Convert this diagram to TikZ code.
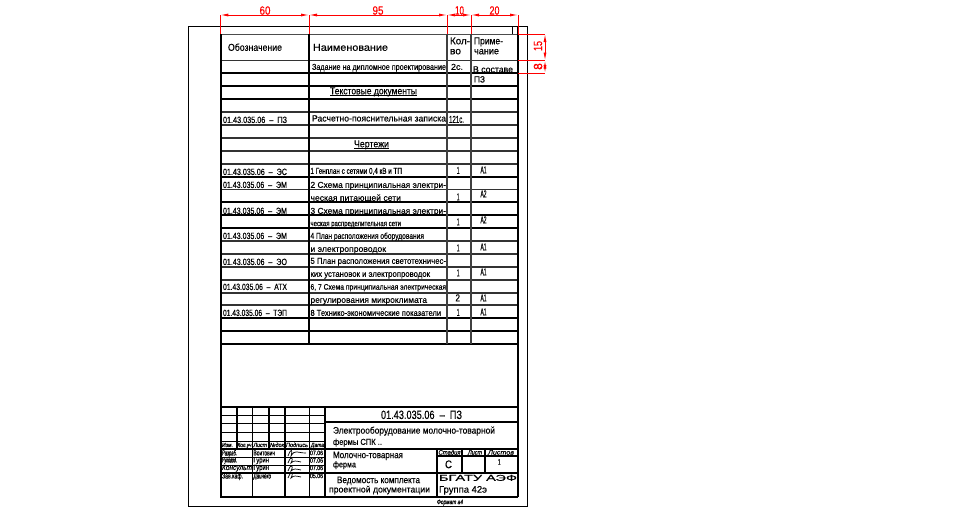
\documentclass[tikz,border=0pt]{standalone}
\usepackage{graphicx}
\usepackage{fontspec}
\setmainfont[FakeBold=0.35]{Liberation Sans}
\usetikzlibrary{arrows.meta}
\newcounter{tn}
\tikzset{
  txt/.style={inner sep=0pt,outer sep=0pt,anchor=base west,font=\fontsize{#1}{#1}\selectfont,text=black},
  txt/.default=10,
  thinl/.style={line width=1.1pt,black!80},
  thickl/.style={line width=2pt,black},
  framel/.style={line width=1pt,black},
  dim/.style={red,line width=0.9pt},
  dimar/.style={red,line width=0.9pt,{Latex[length=8pt,width=3pt]}-{Latex[length=8pt,width=3pt]}},
  dimtxt/.style={inner sep=0pt,text=red,font=\fontsize{12}{12}\selectfont}
}
% x1,x2,y(centre),text
\newcommand{\TX}[5][10]{\stepcounter{tn}\node[txt=#1] (t\thetn) at (#2,#4+0.33*#1) {\resizebox{\dimexpr #3pt-#2pt\relax}{\height}{#5}};}
\newcommand{\CODE}[1]{01.43.035.06\ \ --\ \ #1}
\begin{document}
\begin{tikzpicture}[x=1pt,y=-1pt]
\useasboundingbox (0,0) rectangle (976,512);
\fill[white] (0,0) rectangle (976,512);
% outer frame
\draw[framel] (188,26.5) rectangle (527,506);
\draw[framel] (512,26.5) -- (512,34);
\draw[framel,black!70] (220,34) -- (518,34);
% rows
\foreach \y in {60.5,112,125,138,151,164,189.5,241,254,267,280,293,305}
  \draw[thinl] (220,\y) -- (518,\y);
\foreach \y in {73,86,99,177,202,215,228,318,331,344}
  \draw[thickl] (220,\y) -- (518,\y);
% columns
\draw[thickl] (220.5,34) -- (220.5,496.5);
\draw[thickl] (517.8,26) -- (517.8,496.5);
\draw[line width=2.2pt] (308.8,34) -- (308.8,344);
\draw[line width=1.3pt,black!75] (447,34) -- (447,344);
\draw[line width=1.3pt,black!75] (471,34) -- (471,344);
% stamp grid
\draw[thickl] (220,407) -- (518,407);
\draw[thickl] (220,497) -- (518,497);
\draw[thickl] (220,449.3) -- (518,449.3);
\draw[thickl] (325,422) -- (518,422);
\draw[thickl] (325,473) -- (518,473);
\draw[thickl] (220,473) -- (325,473);
\foreach \y in {415,423.5,432,441}
  \draw[line width=0.9pt] (220,\y) -- (325,\y);
\foreach \y in {457.5,465.3}
  \draw[line width=1.1pt] (220,\y) -- (325,\y);
\draw[line width=1.5pt] (285,407) -- (285,497);
\draw[line width=1.5pt] (309.5,407) -- (309.5,497);
\draw[line width=2.2pt] (325,407) -- (325,497);
\draw[line width=1.2pt] (237,407) -- (237,449);
\draw[line width=1.2pt] (252.7,407) -- (252.7,497);
\draw[line width=1.2pt] (269,407) -- (269,449);
\draw[thickl] (437,449) -- (437,497);
\draw[line width=1.2pt] (437,456) -- (518,456);
\draw[line width=1.4pt] (462,449) -- (462,473);
\draw[line width=1.4pt] (485,449) -- (485,473);
% underlines
\draw[line width=0.8pt] (330,95.5) -- (417,95.5);
\draw[line width=0.8pt] (354,148.5) -- (389,148.5);
% dimensions
\foreach \x in {220.3,309,447,471,518}
  \draw[dim] (\x,15) -- (\x,34);
\foreach \a/\b in {220.3/309,309/447,447/471,471/518}
  \draw[dimar] (\a,15) -- (\b,15);
\foreach \y in {34,60.5,73}
  \draw[dim] (518,\y) -- (545,\y);
\foreach \a/\b in {34/60.5,60.5/73}
  \draw[dimar] (545,\a) -- (545,\b);
\node[dimtxt] (d60) at (265,10.5) {\resizebox{11pt}{\height}{60}};
\node[dimtxt] (d95) at (378,10.5) {\resizebox{11pt}{\height}{95}};
\node[dimtxt] (d10) at (459.5,10.5) {\resizebox{9pt}{\height}{10}};
\node[dimtxt] (d20) at (494.5,10.5) {\resizebox{10pt}{\height}{20}};
\node[dimtxt,rotate=90] (d15) at (538,46) {\resizebox{10pt}{\height}{15}};
\node[dimtxt,rotate=90] (d8) at (538,66.5) {8};
% header
\TX{228}{282}{47.5}{Обозначение}
\TX{313}{388}{47.5}{Наименование}
\TX{450}{470}{41}{Кол-}
\TX{450}{461}{51}{во}
\TX{474}{503}{41}{Приме-}
\TX{474}{499}{51}{чание}
% upper
\TX[8.5]{312}{446}{67}{Задание на дипломное проектирование}
\TX[8.5]{451}{463}{67}{2с.}
\TX[9]{473}{513}{69.5}{В составе}
\TX[9]{474}{485}{79.5}{ПЗ}
\TX{330}{417}{91}{Текстовые документы}
\TX[9]{223}{287}{120}{\CODE{ПЗ}}
\TX[9]{312}{446}{118.5}{Расчетно-пояснительная записка}
\TX[10]{449}{464}{119.5}{121с.}
\TX{354}{389}{144}{Чертежи}
% code column
\TX[9]{223}{287}{172}{\CODE{ЭС}}
\TX[9]{223}{287}{185}{\CODE{ЭМ}}
\TX[9]{223}{287}{211}{\CODE{ЭМ}}
\TX[9]{223}{287}{236}{\CODE{ЭМ}}
\TX[9]{223}{287}{262}{\CODE{ЭО}}
\TX[9]{223}{287}{287}{\CODE{АТХ}}
\TX[9]{223}{287}{313}{\CODE{ТЭП}}
% names
\TX[8.5]{310.5}{402}{171}{1 Генплан с сетями 0,4 кВ и ТП}
\TX[8.5]{310.5}{446}{185}{2 Схема принципиальная электри-}
\TX[8.5]{310.5}{401}{198}{ческая питающей сети}
\TX[8.5]{310.5}{446}{211}{3 Схема принципиальная электри-}
\TX[8]{310.5}{401}{223.5}{ческая распределительная сети}
\TX[8.5]{310.5}{424}{236}{4 План расположения оборудования}
\TX[8.5]{310.5}{386}{249}{и электропроводок}
\TX[8.5]{310.5}{446}{261}{5 План расположения светотехничес-}
\TX[8.5]{310.5}{430}{274}{ких установок и электропроводок}
\TX[8]{310.5}{446}{287}{6, 7 Схема принципиальная электрическая}
\TX[8.5]{310.5}{427}{300}{регулирования микроклимата}
\TX[8.5]{310.5}{441}{313}{8 Технико-экономические показатели}
% qty + note
\TX[10]{456.8}{459.5}{170.5}{1}\TX[10]{480.5}{486.5}{170}{А1}
\TX[10]{456.8}{459.5}{197}{1}\TX[10]{480.5}{486.5}{194}{А2}
\TX[10]{456.8}{459.5}{222}{1}\TX[10]{480.5}{486.5}{220}{А2}
\TX[10]{456.8}{459.5}{248}{1}\TX[10]{480.5}{486.5}{247}{А1}
\TX[10]{456.8}{459.5}{273}{1}\TX[10]{480.5}{486.5}{272}{А1}
\TX[10]{455.5}{460}{298}{2}\TX[10]{480.5}{486.5}{298}{А1}
\TX[10]{456.8}{459.5}{312.5}{1}\TX[10]{480.5}{486.5}{312}{А1}
% stamp right
\TX[12]{381}{462}{415}{\CODE{ПЗ}}
\TX[9.5]{333}{495}{430.5}{Электрооборудование молочно-товарной}
\TX[8.5]{333}{382}{442}{фермы СПК ..}
\TX[9.5]{333}{403}{455}{Молочно-товарная}
\TX[8.5]{333}{356}{464.5}{ферма}
\TX[9.5]{337}{420}{480}{Ведомость комплекта}
\TX[9]{329}{430}{489.5}{проектной документации}
\TX[6.5]{438.5}{460.5}{452.5}{\itshape Стадия}
\TX[6.5]{468}{482}{452.5}{\itshape Лист}
\TX[6.5]{488}{514}{452.5}{\itshape Листов}
\TX[11]{445}{452}{464.5}{С}
\TX[8]{498}{500.5}{462}{1}
\TX[8.5]{439}{517}{478}{БГАТУ АЭФ}
\TX[9.5]{439}{487}{489.5}{Группа 42э}
\TX[6.5]{437}{463}{502}{\itshape Формат а4}
% stamp left
\TX[6]{222}{233}{445}{\itshape Изм.}
\TX[6]{237.5}{251.5}{445}{\itshape Кол.уч}
\TX[6]{253.5}{267}{445}{\itshape Лист}
\TX[6]{270}{284}{445}{\itshape №док}
\TX[6]{286}{308}{445}{\itshape Подпись}
\TX[6]{311}{324}{445}{\itshape Дата}
\TX[7.5]{222}{237}{453}{\itshape Разраб.}
\TX[7.5]{253.5}{275}{453}{Воитович}
\TX[7.5]{222}{237}{460}{\itshape Руковод.}
\TX[7.5]{253.5}{269}{460}{Гурин}
\TX[7.5]{222}{252}{467.5}{\itshape Консульт}
\TX[7.5]{253.5}{269}{467.5}{Гурин}
\TX[7.5]{222}{243}{476}{Зав.каф.}
\TX[7.5]{253.5}{271}{476}{\itshape Дайнеко}
\TX[6.5]{310}{323}{453}{07.06}
\TX[6.5]{310}{323}{460.5}{07.06}
\TX[6.5]{310}{323}{468}{07.06}
\TX[6.5]{310}{323}{476}{05.06}
% signatures
\draw[line width=0.7pt] (288,456) .. controls (291,448) and (293,449) .. (291,456) .. controls (295,449) and (297,453) .. (306,453);
\foreach \y in {463,471,478}
  \draw[line width=0.7pt] (288,\y) .. controls (291,\y-8) and (294,\y-6) .. (291,\y) .. controls (294,\y-3) and (296,\y-2) .. (301,\y-1);
\end{tikzpicture}
\end{document}
